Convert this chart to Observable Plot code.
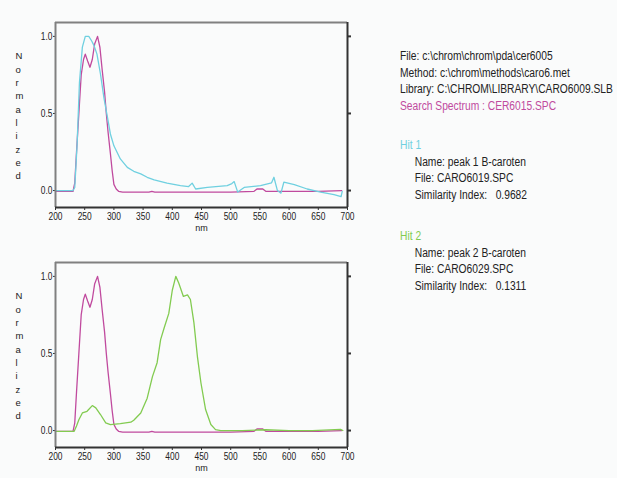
<!DOCTYPE html>
<html><head><meta charset="utf-8">
<script src="https://cdn.jsdelivr.net/npm/d3@7"></script>
<script src="https://cdn.jsdelivr.net/npm/@observablehq/plot@0.6"></script>
<style>
html,body{margin:0;padding:0;background:#fafbfb;}
#wrap{position:relative;width:617px;height:478px;overflow:hidden;}
.panel{position:absolute;left:0;}
#info{position:absolute;left:400px;top:48px;font-family:"Liberation Sans",sans-serif;font-size:12.5px;line-height:16.5px;color:#222;white-space:pre;transform:scaleX(0.82);transform-origin:0 0;}
#info .ind{padding-left:18px;}
</style></head>
<body><div id="wrap"><div id="top" class="panel" style="top:0"></div><div id="bot" class="panel" style="top:240px"></div><div id="info"></div></div>
<script>
// Search spectrum CER6015.SPC (magenta)
const searchNm = [200,220,230,233,236,240,244,248,251,255,259,263,267,272,276,280,284,287,290,294,297,300,304,308,315,360,365,370,400,440,500,540,545,555,560,600,650,690];
const searchVal= [-0.005,-0.005,-0.005,0.05,0.25,0.5,0.75,0.85,0.885,0.84,0.80,0.85,0.95,1.0,0.93,0.78,0.64,0.50,0.38,0.24,0.13,0.04,0.01,-0.005,-0.01,-0.01,-0.005,-0.01,-0.01,-0.01,-0.01,-0.005,0.01,0.01,-0.005,-0.005,-0.005,0.0];
// Hit 1 CARO6019.SPC (cyan)
const hit1Nm = [200,230,233,237,241,246,251,257,262,266,271,277,283,289,294,300,311,323,334,346,357,369,391,414,428,434,440,460,494,502,506,512,523,551,570,574,580,586,591,609,631,654,677,689,691];
const hit1Val= [0,0,0.02,0.3,0.7,0.93,1.0,1.0,0.97,0.94,0.885,0.756,0.60,0.475,0.367,0.29,0.205,0.15,0.125,0.108,0.086,0.069,0.048,0.032,0.026,0.048,0.01,0.02,0.032,0.045,0.058,-0.01,0.02,0.032,0.05,0.086,0.0,-0.017,0.054,0.039,0.01,-0.01,-0.026,-0.04,-0.005];
// Hit 2 CARO6029.SPC (green)
const hit2Nm = [200,232,236,240,246,254,263,269,277,286,294,311,329,334,346,357,366,374,380,386,394,400,406,411,419,426,431,437,443,449,457,466,474,483,520,560,600,640,688,692];
const hit2Val= [-0.005,-0.005,0.03,0.07,0.114,0.125,0.162,0.147,0.104,0.05,0.039,0.045,0.054,0.067,0.114,0.21,0.35,0.44,0.59,0.665,0.76,0.91,1.0,0.957,0.87,0.88,0.85,0.70,0.48,0.31,0.136,0.039,0.006,0.0,0.0,0.005,0.0,0.0,0.008,0.0];

const xTicks = [200,250,300,350,400,450,500,550,600,650,700];
const yTicks = [0,0.5,1.0];
const yLabel = "Normalized";
const colSearch = "#c04a9e", colHit1 = "#6fd0e0", colHit2 = "#82cb50";

const search = searchNm.map((x,i)=>({x, y:searchVal[i]}));
const hit1 = hit1Nm.map((x,i)=>({x, y:hit1Val[i]}));
const hit2 = hit2Nm.map((x,i)=>({x, y:hit2Val[i]}));

function panel(series){
  const svg = Plot.plot({
    width:370, height:240,
    marginLeft:55, marginRight:23, marginTop:22, marginBottom:33,
    style:{background:"transparent", fontFamily:'"Liberation Sans",sans-serif', fontSize:"10.5px", color:"#222"},
    x:{domain:[200,700]},
    y:{domain:[-0.11,1.09]},
    marks:[
      Plot.axisX({ticks:xTicks, tickSize:3, tickPadding:2, label:null, stroke:"#333", fill:"#222"}),
      Plot.axisY({ticks:yTicks, tickSize:2, tickPadding:1, tickFormat:d3.format(".1f"), label:null, fill:"#222", stroke:"#333"}),
      Plot.axisY({anchor:"right", ticks:yTicks, tickSize:3, tickFormat:()=>"", label:null, stroke:"#333", strokeWidth:2}),
      ...series.map(s=>Plot.line(s.data,{x:"x", y:"y", stroke:s.color, strokeWidth:1.3})),
      Plot.ruleY([1.09],{stroke:"#808080", strokeWidth:2}),
      Plot.ruleX([200],{stroke:"#808080", strokeWidth:2}),
      Plot.ruleY([-0.11],{stroke:"#333", strokeWidth:2}),
      Plot.ruleX([700],{stroke:"#333", strokeWidth:2}),
      Plot.text([yLabel],{text:d=>d.split("").join("\n"), frameAnchor:"left", dx:-40, lineHeight:1.4, fontSize:9.5, fill:"#222"}),
      Plot.text(["nm"],{frameAnchor:"bottom", dy:23, fontSize:9, fill:"#222"})
    ]
  });
  // narrow the tick labels like the original condensed UI font
  d3.select(svg).selectAll('g[aria-label$="tick label"] text').each(function(){
    const t = this.getAttribute("transform") || "";
    this.setAttribute("transform", t + " scale(0.8,1)");
  });
  return svg;
}
document.getElementById("top").append(panel([{data:search,color:colSearch},{data:hit1,color:colHit1}]));
document.getElementById("bot").append(panel([{data:search,color:colSearch},{data:hit2,color:colHit2}]));

const infoLines = [
  {t:"File: c:\\chrom\\chrom\\pda\\cer6005"},
  {t:"Method: c:\\chrom\\methods\\caro6.met"},
  {t:"Library: C:\\CHROM\\LIBRARY\\CARO6009.SLB"},
  {t:"Search Spectrum : CER6015.SPC", c:colSearch},
  {t:"", gap:23},
  {t:"Hit 1", c:colHit1},
  {t:"Name: peak 1 B-caroten", ind:1},
  {t:"File: CARO6019.SPC", ind:1},
  {t:"Similarity Index:   0.9682", ind:1},
  {t:"", gap:25},
  {t:"Hit 2", c:colHit2},
  {t:"Name: peak 2 B-caroten", ind:1},
  {t:"File: CARO6029.SPC", ind:1},
  {t:"Similarity Index:   0.1311", ind:1}
];
const info = document.getElementById("info");
for(const l of infoLines){
  const div = document.createElement("div");
  div.textContent = l.t || "\u00a0";
  if(l.c) div.style.color = l.c;
  if(l.ind) div.className = "ind";
  if(l.gap) div.style.height = l.gap + "px";
  info.append(div);
}
</script></body></html>
